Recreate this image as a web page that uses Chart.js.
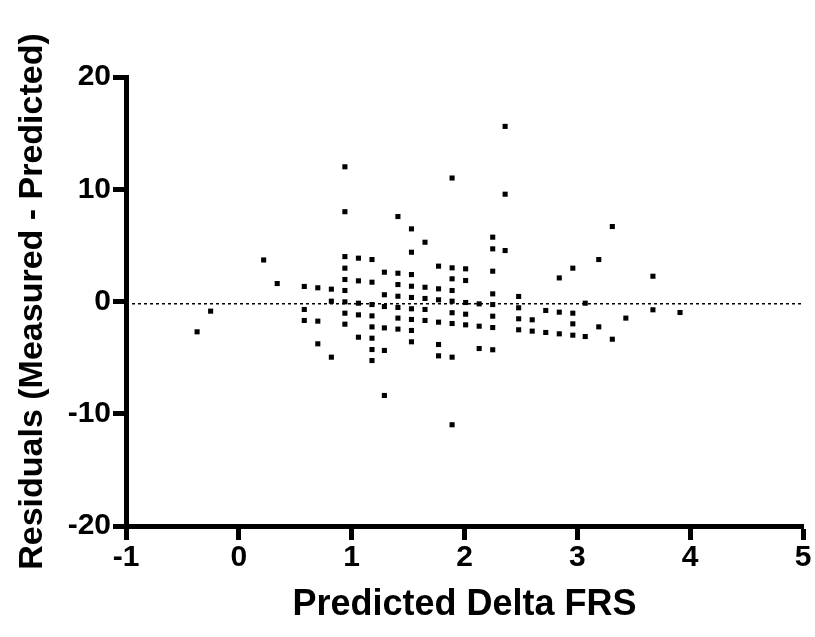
<!DOCTYPE html>
<html>
<head>
<meta charset="utf-8">
<script src="https://cdn.jsdelivr.net/npm/chart.js@4"></script>
<style>
  body { margin: 0; background: #fff; }
  #wrap { width: 815px; height: 637px; }
</style>
</head>
<body>
<div id="wrap"><canvas id="myChart" width="815" height="637"></canvas></div>
<script>
// predicted delta FRS (x) and residuals (y)
var predicted = [
  -0.37, -0.25, 0.22, 0.34,
  0.58, 0.58, 0.58,
  0.70, 0.70, 0.70,
  0.82, 0.82, 0.82,
  0.94, 0.94, 0.94, 0.94, 0.94, 0.94, 0.94, 0.94, 0.94,
  1.06, 1.06, 1.06, 1.06, 1.06,
  1.18, 1.18, 1.18, 1.18, 1.18, 1.18, 1.18, 1.18,
  1.29, 1.29, 1.29, 1.29, 1.29, 1.29,
  1.41, 1.41, 1.41, 1.41, 1.41, 1.41, 1.41,
  1.53, 1.53, 1.53, 1.53, 1.53, 1.53, 1.53, 1.53, 1.53,
  1.65, 1.65, 1.65, 1.65, 1.65,
  1.77, 1.77, 1.77, 1.77, 1.77, 1.77,
  1.89, 1.89, 1.89, 1.89, 1.89, 1.89, 1.89, 1.89, 1.89,
  2.01, 2.01, 2.01, 2.01, 2.01,
  2.13, 2.13, 2.13,
  2.25, 2.25, 2.25, 2.25, 2.25, 2.25, 2.25, 2.25,
  2.36, 2.36, 2.36,
  2.48, 2.48, 2.48, 2.48,
  2.60, 2.60,
  2.72, 2.72,
  2.84, 2.84, 2.84,
  2.96, 2.96, 2.96, 2.96,
  3.07, 3.07,
  3.19, 3.19,
  3.31, 3.31,
  3.43,
  3.67, 3.67,
  3.91
];
var residuals = [
  -2.7, -0.86, 3.7, 1.6,
  1.34, -0.71, -1.69,
  1.22, -1.75, -3.77,
  1.1, 0.03, -4.96,
  12.0, 8.0, 4.0, 2.97, 1.96, 0.98, -0.03, -1.04, -2.02,
  3.86, 1.84, -0.15, -1.19, -3.18,
  3.74, 1.72, -0.27, -1.28, -2.26, -3.27, -4.28, -5.26,
  2.61, 0.6, -0.45, -2.35, -4.36, -8.37,
  7.57, 2.52, 1.51, 0.47, -0.53, -1.48, -2.46,
  6.47, 4.39, 2.4, 1.36, 0.36, -0.65, -1.6, -2.58, -3.59,
  5.28, 1.27, 0.27, -0.71, -1.69,
  3.15, 1.13, 0.15, -1.84, -3.83, -4.84,
  11.0, 3.0, 2.02, 0.98, 0.03, -1.0, -1.96, -4.96, -10.98,
  2.91, 1.87, -0.09, -1.13, -2.08,
  -0.21, -2.2, -4.19,
  5.73, 4.69, 2.7, 0.68, -0.27, -1.31, -2.32, -4.3,
  15.6, 9.56, 4.54,
  0.45, -0.56, -1.54, -2.52,
  -1.63, -2.64,
  -0.8, -2.76,
  2.1, -0.95, -2.88,
  2.97, -1.04, -1.99, -3.0,
  -0.15, -3.12,
  3.74, -2.26,
  6.68, -3.36,
  -1.48,
  2.25, -0.74,
  -0.98
];
// dotted reference line
var refX = [-1, 5];
var refY = [-0.2, -0.2];

var xTicks = [-1, 0, 1, 2, 3, 4, 5];
var yTicks = [-20, -10, 0, 10, 20];

var points = predicted.map(function (x, i) {
  return { x: x, y: residuals[i] };
});
var refLine = refX.map(function (x, i) {
  return { x: x, y: refY[i] };
});

var tickFont = { family: 'Liberation Sans, Arial, sans-serif', size: 30, weight: 'bold' };
var yTitleFont = { family: 'Liberation Sans, Arial, sans-serif', size: 34, weight: 'bold' };
var xTitleFont = { family: 'Liberation Sans, Arial, sans-serif', size: 36, weight: 'bold' };

var ctx = document.getElementById('myChart');
var myChart = new Chart(ctx, {
  type: 'scatter',
  data: {
    datasets: [
      {
        data: points,
        pointStyle: 'rect',
        pointRadius: 3.6,
        pointBorderWidth: 0,
        backgroundColor: '#000',
        borderColor: '#000'
      },
      {
        type: 'line',
        data: refLine,
        borderColor: '#000',
        borderWidth: 1.5,
        borderDash: [3, 3],
        pointRadius: 0,
        fill: false
      }
    ]
  },
  options: {
    responsive: false,
    animation: false,
    devicePixelRatio: 1,
    layout: { padding: { top: 77, right: 12, left: 0, bottom: 0 } },
    plugins: { legend: { display: false }, tooltip: { enabled: false } },
    scales: {
      x: {
        type: 'linear',
        min: -1,
        max: 5,
        afterBuildTicks: function (s) { s.ticks = xTicks.map(function (v) { return { value: v }; }); },
        afterFit: function (s) { s.height = 111; },
        grid: { drawOnChartArea: false, drawTicks: true, tickLength: 14, tickWidth: 5, tickColor: '#000' },
        border: { display: true, width: 5, color: '#000' },
        ticks: { color: '#000', font: tickFont, padding: 0, maxRotation: 0 },
        title: { display: true, text: 'Predicted Delta FRS', color: '#000', font: xTitleFont, padding: { top: 0, bottom: 10 } }
      },
      y: {
        type: 'linear',
        min: -20,
        max: 20,
        afterBuildTicks: function (s) { s.ticks = yTicks.map(function (v) { return { value: v }; }); },
        afterFit: function (s) { s.width = 126; },
        grid: { drawOnChartArea: false, drawTicks: true, tickLength: 13, tickWidth: 5, tickColor: '#000' },
        border: { display: true, width: 5, color: '#000' },
        ticks: { color: '#000', font: tickFont, padding: 2 },
        title: { display: true, text: 'Residuals (Measured - Predicted)', color: '#000', font: yTitleFont, padding: { top: 12, bottom: 0 } }
      }
    }
  }
});
</script>
</body>
</html>
